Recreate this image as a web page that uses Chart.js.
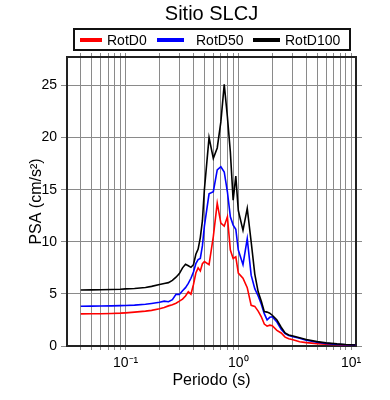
<!DOCTYPE html>
<html>
<head>
<meta charset="utf-8">
<script src="https://cdn.jsdelivr.net/npm/chart.js@4.4.1/dist/chart.umd.min.js"></script>
<style>
  body { margin: 0; background: #fff; font-family: "Liberation Sans", Arial, sans-serif; color: #000; }
  #wrap { position: relative; width: 390px; height: 400px; }
  #grafica { position: absolute; left: 0; top: 0; }
  #titulo { position: absolute; left: 67px; top: 1px; width: 289px; text-align: center; font-size: 20px; line-height: 24px; }
  #leyenda { position: absolute; left: 73px; top: 28px; width: 278px; height: 23px; box-sizing: border-box; border: 2px solid #111; }
  .linea { position: absolute; top: 8px; height: 4px; }
  .texto { position: absolute; top: 2px; font-size: 14px; line-height: 16px; white-space: nowrap; }
</style>
</head>
<body>
<div id="wrap">
  <canvas id="grafica" width="390" height="400"></canvas>
  <div id="titulo">Sitio SLCJ</div>
  <div id="leyenda">
    <span class="linea" style="left:5px;width:22px;background:#ff0000"></span>
    <span class="texto" style="left:32px">RotD0</span>
    <span class="linea" style="left:82px;width:27px;background:#0000ff"></span>
    <span class="texto" style="left:121px">RotD50</span>
    <span class="linea" style="left:178px;width:27px;background:#000000"></span>
    <span class="texto" style="left:210px">RotD100</span>
  </div>
</div>
<script>
const periods = [0.04, 0.05, 0.06, 0.075, 0.09, 0.1, 0.12, 0.15, 0.17, 0.2,
  0.22, 0.24, 0.26, 0.28, 0.30, 0.32, 0.34, 0.36, 0.38, 0.40,
  0.42, 0.44, 0.46, 0.48, 0.50, 0.55, 0.60, 0.65, 0.70, 0.75,
  0.80, 0.85, 0.90, 0.95, 1.0, 1.1, 1.2, 1.3, 1.4, 1.5,
  1.6, 1.7, 1.8, 1.9, 2.0, 2.2, 2.4, 2.6, 2.8, 3.0,
  3.5, 4.0, 5.0, 6.0, 7.5, 9.0, 11.0];

const rotD0 = [3.08, 3.09, 3.10, 3.12, 3.15, 3.18, 3.25, 3.35, 3.42, 3.58,
  3.70, 3.85, 3.95, 4.10, 4.30, 4.50, 4.80, 5.20, 4.97, 5.90,
  7.00, 7.50, 7.20, 7.90, 8.10, 7.80, 10.5, 13.7, 11.8, 11.5,
  12.4, 9.20, 8.40, 8.56, 7.00, 6.50, 5.60, 3.90, 3.80, 3.35,
  2.80, 2.10, 1.90, 2.00, 1.95, 1.50, 1.25, 0.85, 0.70, 0.62,
  0.40, 0.32, 0.23, 0.18, 0.13, 0.10, 0.08];

const rotD50 = [3.82, 3.83, 3.84, 3.85, 3.87, 3.88, 3.92, 4.00, 4.08, 4.20,
  4.30, 4.25, 4.45, 4.95, 4.95, 5.30, 5.60, 6.00, 6.50, 7.10,
  7.90, 8.30, 8.40, 9.60, 11.5, 14.6, 14.8, 16.9, 17.2, 16.7,
  14.8, 12.4, 11.6, 11.2, 9.20, 7.80, 10.3, 6.80, 5.50, 4.80,
  4.00, 3.10, 2.50, 2.75, 2.80, 2.30, 1.60, 1.20, 1.00, 0.92,
  0.75, 0.55, 0.36, 0.25, 0.16, 0.12, 0.09];

const rotD100 = [5.38, 5.39, 5.40, 5.42, 5.45, 5.48, 5.52, 5.62, 5.72, 5.90,
  6.00, 6.08, 6.30, 6.60, 6.95, 7.50, 7.85, 7.70, 7.55, 7.80,
  8.80, 9.30, 10.4, 12.0, 15.0, 20.0, 18.0, 19.0, 21.5, 25.1,
  22.0, 18.6, 14.0, 16.3, 13.0, 11.1, 13.2, 10.0, 6.90, 5.20,
  4.30, 3.30, 3.25, 3.15, 2.95, 2.50, 1.80, 1.25, 1.05, 0.98,
  0.80, 0.62, 0.42, 0.30, 0.20, 0.14, 0.10];

const periodTicks = [0.04, 0.05, 0.06, 0.07, 0.08, 0.09,
  0.1, 0.2, 0.3, 0.4, 0.5, 0.6, 0.7, 0.8, 0.9,
  1, 2, 3, 4, 5, 6, 7, 8, 9, 10];
const decadeValues = [0.1, 1, 10];
const decadeLabels = ['10\u207B\u00B9', '10\u2070', '10\u00B9'];
const psaTicks = [0, 5, 10, 15, 20, 25];

const X_MIN = 0.0302, X_MAX = 11.07, Y_MAX = 27.73;
const gridColor = '#8a8a8a';
const frame = { display: true, color: '#222', width: 2 };

Chart.defaults.font.family = '"Liberation Sans", Arial, sans-serif';
Chart.defaults.color = '#000';

const toPoints = (vals) => periods.map((p, i) => ({ x: p, y: vals[i] }));
const setXTicks = (axis) => { axis.ticks = periodTicks.map(v => ({ value: v })); };
const setYTicks = (axis) => { axis.ticks = psaTicks.map(v => ({ value: v })); };

new Chart(document.getElementById('grafica'), {
  type: 'line',
  data: {
    datasets: [
      { label: 'RotD0', data: toPoints(rotD0), borderColor: '#ff0000', order: 3 },
      { label: 'RotD50', data: toPoints(rotD50), borderColor: '#0000ff', order: 2 },
      { label: 'RotD100', data: toPoints(rotD100), borderColor: '#000000', order: 1 },
    ],
  },
  options: {
    responsive: false,
    animation: false,
    elements: {
      line: { borderWidth: 1.6, tension: 0, fill: false },
      point: { radius: 0 },
    },
    plugins: { legend: { display: false }, title: { display: false }, tooltip: { enabled: false } },
    layout: { padding: 0 },
    scales: {
      x: {
        type: 'logarithmic', position: 'bottom', min: X_MIN, max: X_MAX,
        afterBuildTicks: setXTicks,
        afterFit: (s) => { s.height = 54; },
        grid: { color: gridColor, tickColor: gridColor, tickLength: 4 },
        border: frame,
        ticks: {
          autoSkip: false, maxRotation: 0, padding: 5, font: { size: 14 },
          callback: (v) => { const i = decadeValues.indexOf(v); return i >= 0 ? decadeLabels[i] : ''; },
        },
        title: { display: true, text: 'Periodo (s)', font: { size: 16 }, padding: { top: 0, bottom: 10 } },
      },
      x2: {
        type: 'logarithmic', position: 'top', min: X_MIN, max: X_MAX,
        afterBuildTicks: setXTicks,
        afterFit: (s) => { s.height = 57; },
        grid: { drawOnChartArea: false, tickColor: gridColor, tickLength: 4 },
        border: frame,
        ticks: { display: false },
      },
      y: {
        type: 'linear', position: 'left', min: 0, max: Y_MAX,
        afterBuildTicks: setYTicks,
        afterFit: (s) => { s.width = 67; },
        grid: { color: gridColor, tickColor: gridColor, tickLength: 6 },
        border: frame,
        ticks: { padding: 4, font: { size: 14 } },
        title: { display: true, text: 'PSA (cm/s\u00B2)', font: { size: 16 }, padding: { top: 27, bottom: 0 } },
      },
      y2: {
        type: 'linear', position: 'right', min: 0, max: Y_MAX,
        afterBuildTicks: setYTicks,
        afterFit: (s) => { s.width = 34; },
        grid: { drawOnChartArea: false, tickColor: gridColor, tickLength: 6 },
        border: frame,
        ticks: { display: false },
      },
    },
  },
});
</script>
</body>
</html>
